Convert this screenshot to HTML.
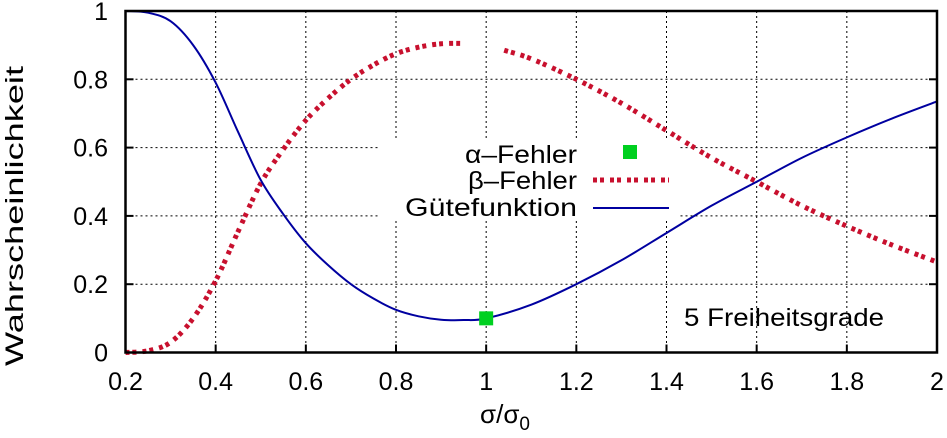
<!DOCTYPE html>
<html><head><meta charset="utf-8"><style>
html,body{margin:0;padding:0;background:#fff;}
svg{display:block;font-family:"Liberation Sans",sans-serif;}
</style></head><body>
<svg id="chart" width="947" height="438" viewBox="0 0 947 438" xmlns="http://www.w3.org/2000/svg">
<g id="grid"></g>
<rect x="378" y="139" width="300" height="80" fill="#fff"/>
<g id="series"></g>
<g id="axes"></g>
<text x="505" y="423" font-size="26" text-anchor="middle">σ/σ<tspan font-size="19" dy="7">0</tspan></text>
<text transform="translate(23,216) rotate(-90)" font-size="25" text-anchor="middle" textLength="300" lengthAdjust="spacingAndGlyphs">Wahrscheinlichkeit</text>
<text x="684" y="326" font-size="25" textLength="200" lengthAdjust="spacingAndGlyphs">5 Freiheitsgrade</text>
<g>
<text x="465" y="163" font-size="25" textLength="112" lengthAdjust="spacingAndGlyphs">α–Fehler</text>
<rect x="623" y="145" width="14" height="14" fill="#00d020"/>
<text x="468" y="189" font-size="25" textLength="109" lengthAdjust="spacingAndGlyphs">β–Fehler</text>
<line x1="593" y1="180" x2="669" y2="180" stroke="#c8102e" stroke-width="5" stroke-dasharray="4,3,4,6"/>
<text x="405" y="216" font-size="25" textLength="172" lengthAdjust="spacingAndGlyphs">Gütefunktion</text>
<line x1="593" y1="208" x2="669" y2="208" stroke="#0000a0" stroke-width="2"/>
</g>
</svg>
<script>
const powerX = [0.2,0.25,0.3,0.35,0.4,0.45,0.5,0.55,0.6,0.65,0.7,0.75,0.8,0.85,0.9,0.95,1.0,1.1,1.2,1.3,1.4,1.5,1.6,1.7,1.8,1.9,2.0];
const powerY = [1.0,0.995,0.97,0.9,0.79,0.645,0.505,0.405,0.32,0.255,0.2,0.158,0.125,0.106,0.096,0.095,0.1,0.14,0.2,0.27,0.35,0.43,0.5,0.57,0.63,0.685,0.735];
const betaLowX = [0.2,0.25,0.3,0.35,0.4,0.45,0.5,0.55,0.6,0.65,0.7,0.75,0.8,0.85,0.9,0.95];
const betaLowY = [0.0,0.005,0.03,0.1,0.21,0.355,0.495,0.595,0.68,0.745,0.8,0.842,0.875,0.894,0.904,0.905];
const betaHighX = [1.04,1.1,1.2,1.3,1.4,1.5,1.6,1.7,1.8,1.9,2.0];
const betaHighY = [0.885,0.86,0.8,0.73,0.65,0.57,0.5,0.43,0.37,0.315,0.265];
const alphaX = [1.0];
const alphaY = [0.1];
const xTicks = [0.2,0.4,0.6,0.8,1,1.2,1.4,1.6,1.8,2];
const yTicks = [0,0.2,0.4,0.6,0.8,1];

const L=125.5,R=937,T=11,B=352.5;
const sx=v=>L+(v-0.2)/1.8*(R-L);
const sy=v=>B-v*(B-T);
const NS="http://www.w3.org/2000/svg";
function mk(tag,parent,attrs){const e=document.createElementNS(NS,tag);for(const k in attrs)e.setAttribute(k,attrs[k]);parent.appendChild(e);return e;}
const grid=document.getElementById('grid'),axes=document.getElementById('axes'),series=document.getElementById('series');

xTicks.forEach((t,i)=>{
  if(i>0&&i<xTicks.length-1){const g=mk('line',grid,{x1:sx(t),x2:sx(t),y1:T,y2:B,stroke:'#000','stroke-width':1,'stroke-dasharray':'2,3'});
  
  }
  const tk=mk('line',axes,{x1:sx(t),x2:sx(t),y1:B,y2:B-8,stroke:'#000','stroke-width':2});
  
  
  const tx=mk('text',axes,{x:sx(t),y:390,'font-size':25,'text-anchor':'middle'});
  tx.textContent=String(t);
  
  
});
yTicks.forEach((t,i)=>{
  if(i>0&&i<yTicks.length-1){const g=mk('line',grid,{x1:L,x2:R,y1:sy(t),y2:sy(t),stroke:'#000','stroke-width':1,'stroke-dasharray':'2,3'});
  
  }
  const tk=mk('line',axes,{x1:L,x2:L+8,y1:sy(t),y2:sy(t),stroke:'#000','stroke-width':2});
  
  
  const tk2=mk('line',axes,{x1:R,x2:R-8,y1:sy(t),y2:sy(t),stroke:'#000','stroke-width':2});
  
  
  const tx=mk('text',axes,{x:108,y:sy(t)+9,'font-size':25,'text-anchor':'end'});
  tx.textContent=String(t);
  
  
});
const frame=mk('rect',axes,{x:L,y:T,width:R-L,height:B-T,fill:'none',stroke:'#000','stroke-width':2.5});



function smooth(xs,ys){
  const p=xs.map((x,i)=>[sx(x),sy(ys[i])]);let d='M'+p[0][0]+','+p[0][1];
  for(let i=0;i<p.length-1;i++){const p0=p[i-1]||p[i],p1=p[i],p2=p[i+1],p3=p[i+2]||p2;
    d+=' C'+(p1[0]+(p2[0]-p0[0])/6)+','+(p1[1]+(p2[1]-p0[1])/6)+' '+(p2[0]-(p3[0]-p1[0])/6)+','+(p2[1]-(p3[1]-p1[1])/6)+' '+p2[0]+','+p2[1];}
  return d;}
const b1=mk('path',series,{d:smooth(betaLowX,betaLowY),fill:'none',stroke:'#c8102e','stroke-width':5,'stroke-dasharray':'4,3,4,6'});


const b2=mk('path',series,{d:smooth(betaHighX,betaHighY),fill:'none',stroke:'#c8102e','stroke-width':5,'stroke-dasharray':'4,3,4,6'});


const pw=mk('path',series,{d:smooth(powerX,powerY),fill:'none',stroke:'#0000a0','stroke-width':2});


alphaX.forEach((x,i)=>{const r=mk('rect',series,{x:sx(x)-7,y:sy(alphaY[i])-7,width:14,height:14,fill:'#00d020'});

});
</script>
</body></html>
